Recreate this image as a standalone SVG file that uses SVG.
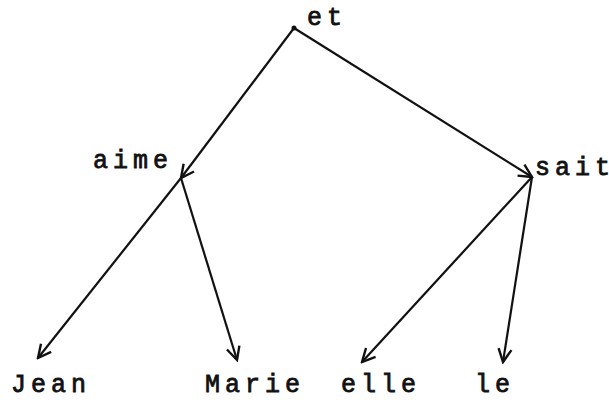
<svg xmlns="http://www.w3.org/2000/svg" width="609" height="400" viewBox="0 0 609 400">
<style>
.t{font-family:"Liberation Mono","Courier New",monospace;font-size:25px;letter-spacing:5px;fill:#111;stroke:#111;stroke-width:0.8}
.l{letter-spacing:0}
.e{stroke:#111;stroke-width:2.2;fill:none}
</style>
<defs>
<marker id="a" viewBox="-14 -8 16 16" markerWidth="16" markerHeight="16" refX="0" refY="0" orient="auto" markerUnits="userSpaceOnUse">
<path d="M-13 -6.5 L0 0 L-13 6.5" fill="none" stroke="#111" stroke-width="2.4"/>
</marker>
</defs>
<rect width="609" height="400" fill="#fff"/>
<g id="connectors">
<path class="e" d="M294 28 L181 178" marker-end="url(#a)"/>
<path class="e" d="M294 28 L532 177" marker-end="url(#a)"/>
<path class="e" d="M181 178 L38 358" marker-end="url(#a)"/>
<path class="e" d="M181 178 L237 360" marker-end="url(#a)"/>
<path class="e" d="M532 177 L362 362" marker-end="url(#a)"/>
<path class="e" d="M532 177 L503 362" marker-end="url(#a)"/>
<circle cx="294" cy="28" r="2.5" fill="#111"/>
</g>
<g id="n-et"><text class="t" x="307" y="25">et</text></g>
<g id="n-aime"><text class="t" x="93" y="168">aime</text></g>
<g id="n-sait"><text class="t" x="535" y="175">sai<tspan class="l">t</tspan></text></g>
<g id="n-jean"><text class="t" x="11" y="392">Jean</text></g>
<g id="n-marie"><text class="t" x="205" y="392">Marie</text></g>
<g id="n-elle"><text class="t" x="341" y="392">elle</text></g>
<g id="n-le"><text class="t" x="475" y="392">le</text></g>
</svg>
